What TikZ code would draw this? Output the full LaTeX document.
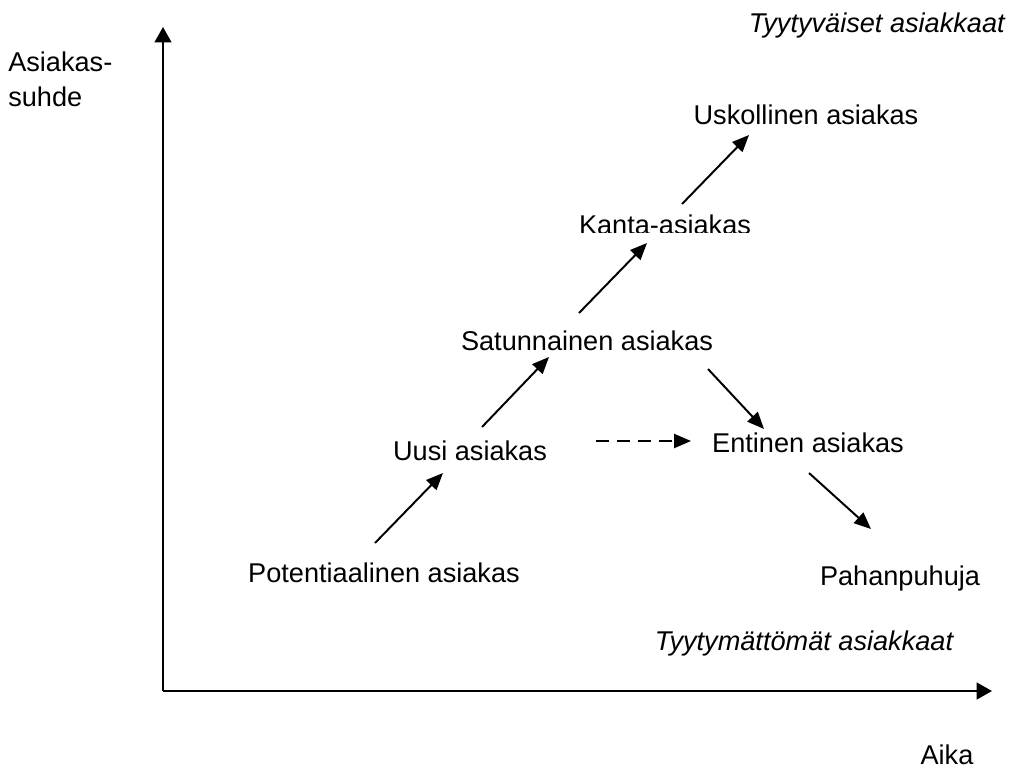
\documentclass[tikz,border=0pt]{standalone}
\usepackage{fontspec}
\setmainfont{Liberation Sans}
\usetikzlibrary{arrows.meta}
\begin{document}
\begin{tikzpicture}[x=0.025cm,y=-0.025cm,
  lbl/.style={inner sep=0pt,anchor=base,font=\fontsize{19.3}{23}\selectfont},
  axis/.style={line width=1.5pt,-{Triangle[length=11pt,width=12pt]}},
  flow/.style={line width=1.4pt,-{Triangle[length=12pt,width=10pt]}},
  flowdash/.style={flow,dash pattern=on 9pt off 6pt}]
\useasboundingbox (0,0) rectangle (1012,769);

% axes
\coordinate (origin) at (163,691);
\coordinate (ytop) at (163,27);
\coordinate (xend) at (992,691);
\draw[axis] (origin) -- (ytop);
\draw[axis] (origin) -- (xend);

% axis labels
\node[lbl,anchor=base west,align=left] (ylab1) at (8,71) {Asiakas-};
\node[lbl,anchor=base west] (ylab2) at (8,106) {suhde};
\node[lbl] (xlab) at (947,764) {Aika};
\node[lbl,anchor=base east,font=\fontsize{19.3}{23}\selectfont\itshape] (top) at (1005,32) {Tyytyväiset asiakkaat};
\node[lbl,font=\fontsize{19.3}{23}\selectfont\itshape] (bottom) at (804,650) {Tyytymättömät asiakkaat};

% stages
\node[lbl] (pot) at (384,582) {Potentiaalinen asiakas};
\node[lbl] (uusi) at (470,460) {Uusi asiakas};
\node[lbl] (sat) at (587,350) {Satunnainen asiakas};
\begin{scope}
  \clip (560,180) rectangle (780,232);
  \node[lbl] (kanta) at (665,234.5) {Kanta-asiakas};
\end{scope}
\node[lbl] (usk) at (806,124) {Uskollinen asiakas};
\node[lbl] (ent) at (808,452) {Entinen asiakas};
\node[lbl] (paha) at (900,585) {Pahanpuhuja};

% arrow end points
\coordinate (p1) at (375,543); \coordinate (q1) at (443,473);
\coordinate (p2) at (482,427); \coordinate (q2) at (549,357);
\coordinate (p3) at (579,313); \coordinate (q3) at (647,243);
\coordinate (p4) at (682,204); \coordinate (q4) at (749,135);
\coordinate (p5) at (708,369); \coordinate (q5) at (764,429);
\coordinate (p6) at (809,473); \coordinate (q6) at (871,529);
\coordinate (p7) at (596,441); \coordinate (q7) at (691,441);

\draw[flow] (p1) -- (q1);
\draw[flow] (p2) -- (q2);
\draw[flow] (p3) -- (q3);
\draw[flow] (p4) -- (q4);
\draw[flow] (p5) -- (q5);
\draw[flow] (p6) -- (q6);
\draw[flowdash] (p7) -- (q7);
\end{tikzpicture}
\end{document}
